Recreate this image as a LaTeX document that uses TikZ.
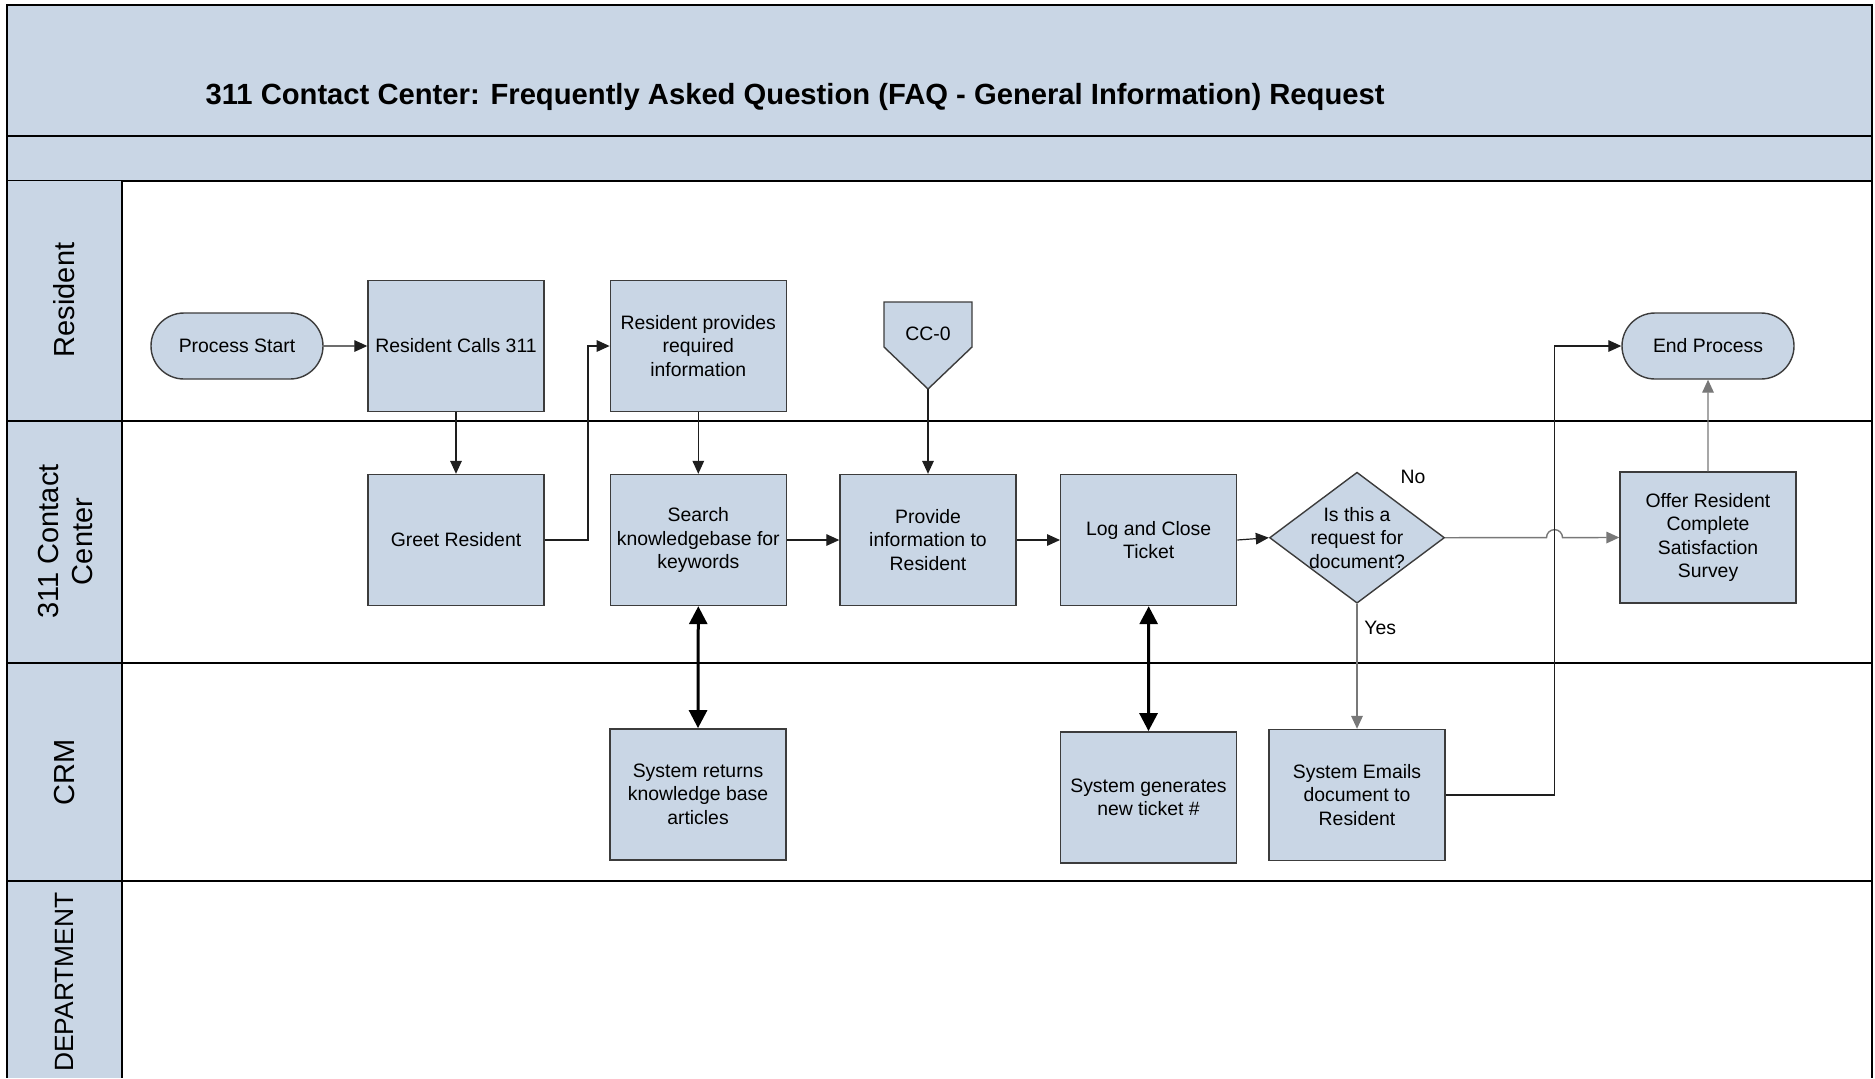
\documentclass[tikz,border=0pt]{standalone}
\usepackage{fontspec}
\setmainfont{Liberation Sans}
\usetikzlibrary{arrows.meta,calc,shapes.geometric,shapes.misc}
\definecolor{laneblue}{RGB}{201,214,229}
\definecolor{boxedge}{RGB}{60,60,60}
\definecolor{flowdark}{RGB}{30,30,30}
\definecolor{flowgray}{RGB}{120,120,120}

\begin{document}
\begin{tikzpicture}[x=0.5pt,y=-0.5pt,
  every node/.style={font=\fontsize{9.7}{11.8}\selectfont, text=black},
  task/.style={draw=boxedge, fill=laneblue, line width=0.7pt,
    minimum width=88pt, minimum height=65.5pt, align=center, inner sep=1pt},
  term/.style={rounded rectangle, draw=boxedge, fill=laneblue, line width=0.7pt,
    minimum width=88pt, minimum height=33pt, inner sep=1pt},
  decision/.style={diamond, draw=boxedge, fill=laneblue, line width=0.7pt,
    minimum width=87.5pt, minimum height=65.5pt, inner sep=0pt},
  lanelabel/.style={rotate=90, align=center, font=\fontsize{14.5}{16.7}\selectfont},
  frameline/.style={draw=black, line width=1pt},
  flow/.style={draw=flowdark, line width=0.6pt, -{Triangle[length=6.5pt,width=5.8pt]}},
  flowg/.style={draw=flowgray, line width=0.7pt, -{Triangle[length=6.5pt,width=5.8pt]}},
  sync/.style={draw=black, line width=1.5pt,
    {Triangle[length=9pt,width=9pt]}-{Triangle[length=9pt,width=9pt]}}]

% page
\useasboundingbox (0,0) rectangle (1875,1078);

% title and sub bands
\fill[laneblue] (6.5,4.5) rectangle (1872,181);
\draw[frameline] (6.5,4.5) rectangle (1872,136);
\draw[frameline] (6.5,136) rectangle (1872,181);
\node[anchor=west, font=\bfseries\fontsize{14.6}{17}\selectfont] (title) at (198.5,96.5)
  {311 Contact Center: Frequently Asked Question (FAQ - General Information) Request};

% lane header column
\fill[laneblue] (6.5,181) rectangle (122,1078);
\draw[frameline] (6.5,181) -- (6.5,1078);
\draw[frameline] (1872,181) -- (1872,1078);
\draw[frameline] (122,181) -- (122,1078);
\draw[frameline] (6.5,421) -- (1872,421);
\draw[frameline] (6.5,662.5) -- (1872,662.5);
\draw[frameline] (6.5,881) -- (1872,881);

\node[lanelabel] (lres) at (64.5,300) {Resident};
\node[lanelabel] (lcc) at (65.5,541.5) {311 Contact\\Center};
\node[lanelabel] (lcrm) at (64.5,772) {CRM};
\node[lanelabel, font=\fontsize{13.2}{15}\selectfont] (ldep) at (64.5,982) {DEPARTMENT};

% Resident lane
\node[term] (start) at (237,346) {Process Start};
\node[task] (calls) at (456,346) {Resident Calls 311};
\node[task] (provides) at (698.3,346) {Resident provides\\required\\information};
\draw[boxedge, fill=laneblue, line width=0.7pt]
  (884,302) -- (972,302) -- (972,347) -- (928,389) -- (884,347) -- cycle;
\node (cc) at (928,334) {CC-0};
\coordinate (cctip) at (928,389);
\node[term] (endp) at (1708,346) {End Process};

% 311 Contact Center lane
\node[task] (greet) at (456,540) {Greet Resident};
\node[task] (search) at (698.3,540) {Search\\knowledgebase for\\keywords};
\node[task] (provide) at (928,540) {Provide\\information to\\Resident};
\node[task] (logc) at (1148.7,540) {Log and Close\\Ticket};
\node[decision] (dq) at (1357,537.7) {};
\node[align=center] (dqtext) at (dq.center) {Is this a\\request for\\document?};
\node[task] (offer) at (1708,537.5) {Offer Resident\\Complete\\Satisfaction\\Survey};

% CRM lane
\node[task] (sysret) at (698,794.3) {System returns\\knowledge base\\articles};
\node[task] (sysgen) at (1148.5,797.3) {System generates\\new ticket \#};
\node[task] (sysmail) at (1357,795) {System Emails\\document to\\Resident};

% branch labels
\node (nolbl) at (1413,477) {No};
\node[anchor=west, inner sep=0pt] (yeslbl) at (1364,628) {Yes};

% connectors
\coordinate (gturn) at (588,346);
\coordinate (eturn) at (1554.5,346);
\coordinate (jmp) at (1554.5,537.6);

\draw[flow] (start) -- (calls);
\draw[flow] (calls) -- (greet);
\draw[flow] (greet.east) -| (gturn) -- (provides.west);
\draw[flow] (provides) -- (search);
\draw[flow] (cctip) -- (provide.north);
\draw[flow] (search) -- (provide);
\draw[flow] (provide) -- (logc);
\draw[flow] (logc.east) -- (dq.west);
\draw[sync] (search.south) -- (sysret.north);
\draw[sync] (logc.south) -- (sysgen.north);
\draw[flowg] (dq.east) -- ($(jmp)+(-8,0)$) arc[start angle=180, end angle=0, radius=4pt] -- (offer.west);
\draw[flowg] (dq.south) -- (sysmail.north);
\draw[flow] (sysmail.east) -| (eturn) -- (endp.west);
\draw[flowg] (offer) -- (endp);
\end{tikzpicture}
\end{document}
